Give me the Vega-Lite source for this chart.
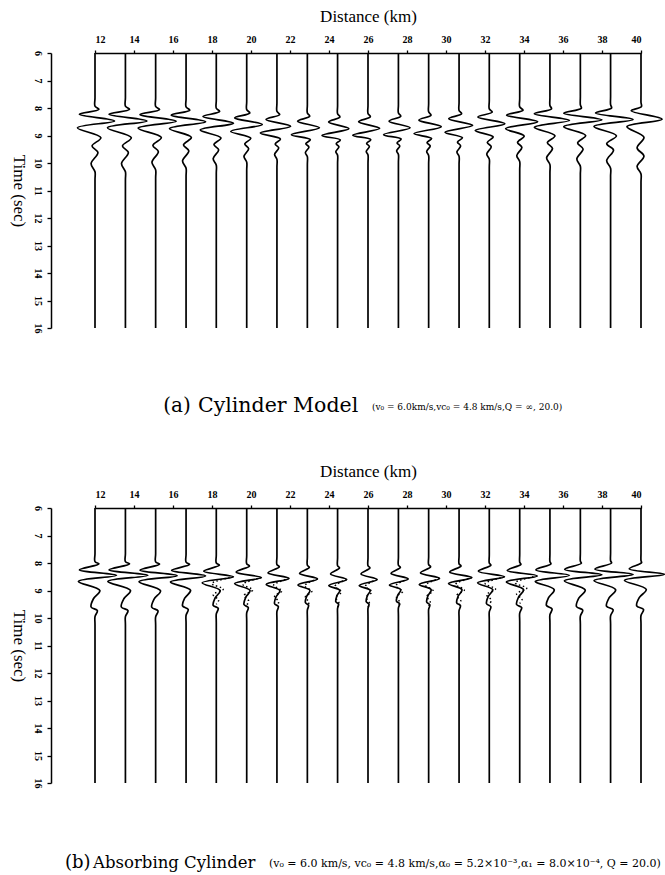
{
  "$schema": "https://vega.github.io/schema/vega-lite/v6.json",
  "background": "white",
  "padding": {"left": 10, "top": 7, "right": 0, "bottom": 0},
  "spacing": 45,
  "config": {
    "view": {"stroke": null},
    "axis": {
      "domainColor": "black", "tickColor": "black", "labelColor": "black", "titleColor": "black",
      "grid": false, "domainWidth": 1.5, "tickWidth": 1.3, "labelOverlap": false,
      "labelFont": "Liberation Serif", "labelFontSize": 10, "labelFontWeight": "bold",
      "titleFont": "Liberation Serif", "titleFontSize": 17, "titleFontWeight": "normal"
    },
    "text": {"font": "DejaVu Serif", "color": "black"}
  },
  "datasets": {
    "a": [
      {"d":12,"t":6,"x":12},{"d":12,"t":7.93,"x":12},{"d":12,"t":8.05,"x":12.2},{"d":12,"t":8.23,"x":11.2},{"d":12,"t":8.47,"x":13},{"d":12,"t":8.72,"x":11.1},{"d":12,"t":9.08,"x":12.3},{"d":12,"t":9.38,"x":11.85},{"d":12,"t":9.62,"x":12.15},{"d":12,"t":10.02,"x":11.8},{"d":12,"t":10.32,"x":12},{"d":12,"t":16,"x":12},
      {"d":13.56,"t":6,"x":13.56},{"d":13.56,"t":7.93,"x":13.56},{"d":13.56,"t":8.05,"x":13.77},{"d":13.56,"t":8.23,"x":12.72},{"d":13.56,"t":8.47,"x":14.66},{"d":13.56,"t":8.72,"x":12.64},{"d":13.56,"t":9.08,"x":13.86},{"d":13.56,"t":9.38,"x":13.41},{"d":13.56,"t":9.62,"x":13.71},{"d":13.56,"t":10.02,"x":13.36},{"d":13.56,"t":10.32,"x":13.56},{"d":13.56,"t":16,"x":13.56},
      {"d":15.11,"t":6,"x":15.11},{"d":15.11,"t":7.94,"x":15.11},{"d":15.11,"t":8.06,"x":15.31},{"d":15.11,"t":8.24,"x":14.31},{"d":15.11,"t":8.48,"x":16.16},{"d":15.11,"t":8.73,"x":14.21},{"d":15.11,"t":9.07,"x":15.4},{"d":15.11,"t":9.36,"x":14.97},{"d":15.11,"t":9.59,"x":15.25},{"d":15.11,"t":9.97,"x":14.92},{"d":15.11,"t":10.25,"x":15.11},{"d":15.11,"t":16,"x":15.11},
      {"d":16.67,"t":6,"x":16.67},{"d":16.67,"t":7.96,"x":16.67},{"d":16.67,"t":8.08,"x":16.86},{"d":16.67,"t":8.26,"x":15.91},{"d":16.67,"t":8.5,"x":17.67},{"d":16.67,"t":8.75,"x":15.82},{"d":16.67,"t":9.07,"x":16.94},{"d":16.67,"t":9.34,"x":16.54},{"d":16.67,"t":9.56,"x":16.81},{"d":16.67,"t":9.92,"x":16.49},{"d":16.67,"t":10.19,"x":16.67},{"d":16.67,"t":16,"x":16.67},
      {"d":18.22,"t":6,"x":18.22},{"d":18.22,"t":8.01,"x":18.22},{"d":18.22,"t":8.13,"x":18.39},{"d":18.22,"t":8.31,"x":17.54},{"d":18.22,"t":8.55,"x":19.1},{"d":18.22,"t":8.8,"x":17.4},{"d":18.22,"t":9.09,"x":18.46},{"d":18.22,"t":9.33,"x":18.1},{"d":18.22,"t":9.52,"x":18.34},{"d":18.22,"t":9.84,"x":18.06},{"d":18.22,"t":10.08,"x":18.22},{"d":18.22,"t":16,"x":18.22},
      {"d":19.78,"t":6,"x":19.78},{"d":19.78,"t":8.06,"x":19.78},{"d":19.78,"t":8.18,"x":19.94},{"d":19.78,"t":8.36,"x":19.16},{"d":19.78,"t":8.6,"x":20.58},{"d":19.78,"t":8.85,"x":18.96},{"d":19.78,"t":9.1,"x":19.99},{"d":19.78,"t":9.31,"x":19.68},{"d":19.78,"t":9.48,"x":19.88},{"d":19.78,"t":9.76,"x":19.64},{"d":19.78,"t":9.97,"x":19.78},{"d":19.78,"t":16,"x":19.78},
      {"d":21.33,"t":6,"x":21.33},{"d":21.33,"t":8.12,"x":21.33},{"d":21.33,"t":8.24,"x":21.47},{"d":21.33,"t":8.42,"x":20.77},{"d":21.33,"t":8.66,"x":22.03},{"d":21.33,"t":8.91,"x":20.48},{"d":21.33,"t":9.13,"x":21.51},{"d":21.33,"t":9.31,"x":21.24},{"d":21.33,"t":9.45,"x":21.42},{"d":21.33,"t":9.69,"x":21.21},{"d":21.33,"t":9.87,"x":21.33},{"d":21.33,"t":16,"x":21.33},
      {"d":22.89,"t":6,"x":22.89},{"d":22.89,"t":8.18,"x":22.89},{"d":22.89,"t":8.3,"x":23.01},{"d":22.89,"t":8.48,"x":22.39},{"d":22.89,"t":8.72,"x":23.51},{"d":22.89,"t":8.97,"x":22.07},{"d":22.89,"t":9.15,"x":23.04},{"d":22.89,"t":9.3,"x":22.81},{"d":22.89,"t":9.42,"x":22.97},{"d":22.89,"t":9.62,"x":22.79},{"d":22.89,"t":9.77,"x":22.89},{"d":22.89,"t":16,"x":22.89},
      {"d":24.44,"t":6,"x":24.44},{"d":24.44,"t":8.21,"x":24.44},{"d":24.44,"t":8.33,"x":24.56},{"d":24.44,"t":8.51,"x":23.98},{"d":24.44,"t":8.75,"x":25.02},{"d":24.44,"t":9,"x":23.64},{"d":24.44,"t":9.16,"x":24.58},{"d":24.44,"t":9.3,"x":24.37},{"d":24.44,"t":9.41,"x":24.51},{"d":24.44,"t":9.59,"x":24.35},{"d":24.44,"t":9.72,"x":24.44},{"d":24.44,"t":16,"x":24.44},
      {"d":26,"t":6,"x":26},{"d":26,"t":8.2,"x":26},{"d":26,"t":8.32,"x":26.12},{"d":26,"t":8.5,"x":25.52},{"d":26,"t":8.74,"x":26.6},{"d":26,"t":8.99,"x":25.22},{"d":26,"t":9.15,"x":26.14},{"d":26,"t":9.29,"x":25.93},{"d":26,"t":9.4,"x":26.07},{"d":26,"t":9.58,"x":25.91},{"d":26,"t":9.71,"x":26},{"d":26,"t":16,"x":26},
      {"d":27.56,"t":6,"x":27.56},{"d":27.56,"t":8.18,"x":27.56},{"d":27.56,"t":8.3,"x":27.68},{"d":27.56,"t":8.48,"x":27.08},{"d":27.56,"t":8.72,"x":28.16},{"d":27.56,"t":8.97,"x":26.8},{"d":27.56,"t":9.13,"x":27.7},{"d":27.56,"t":9.27,"x":27.49},{"d":27.56,"t":9.38,"x":27.63},{"d":27.56,"t":9.56,"x":27.47},{"d":27.56,"t":9.69,"x":27.56},{"d":27.56,"t":16,"x":27.56},
      {"d":29.11,"t":6,"x":29.11},{"d":29.11,"t":8.14,"x":29.11},{"d":29.11,"t":8.26,"x":29.23},{"d":29.11,"t":8.44,"x":28.61},{"d":29.11,"t":8.68,"x":29.76},{"d":29.11,"t":8.93,"x":28.36},{"d":29.11,"t":9.11,"x":29.26},{"d":29.11,"t":9.26,"x":29.03},{"d":29.11,"t":9.38,"x":29.19},{"d":29.11,"t":9.58,"x":29.01},{"d":29.11,"t":9.73,"x":29.11},{"d":29.11,"t":16,"x":29.11},
      {"d":30.67,"t":6,"x":30.67},{"d":30.67,"t":8.09,"x":30.67},{"d":30.67,"t":8.21,"x":30.8},{"d":30.67,"t":8.39,"x":30.14},{"d":30.67,"t":8.63,"x":31.37},{"d":30.67,"t":8.88,"x":29.95},{"d":30.67,"t":9.08,"x":30.84},{"d":30.67,"t":9.24,"x":30.59},{"d":30.67,"t":9.38,"x":30.75},{"d":30.67,"t":9.6,"x":30.56},{"d":30.67,"t":9.76,"x":30.67},{"d":30.67,"t":16,"x":30.67},
      {"d":32.22,"t":6,"x":32.22},{"d":32.22,"t":8.03,"x":32.22},{"d":32.22,"t":8.15,"x":32.37},{"d":32.22,"t":8.33,"x":31.63},{"d":32.22,"t":8.57,"x":33.02},{"d":32.22,"t":8.82,"x":31.5},{"d":32.22,"t":9.05,"x":32.42},{"d":32.22,"t":9.25,"x":32.12},{"d":32.22,"t":9.41,"x":32.32},{"d":32.22,"t":9.67,"x":32.09},{"d":32.22,"t":9.86,"x":32.22},{"d":32.22,"t":16,"x":32.22},
      {"d":33.78,"t":6,"x":33.78},{"d":33.78,"t":7.96,"x":33.78},{"d":33.78,"t":8.08,"x":33.95},{"d":33.78,"t":8.26,"x":33.11},{"d":33.78,"t":8.5,"x":34.7},{"d":33.78,"t":8.75,"x":33.06},{"d":33.78,"t":9.02,"x":34.01},{"d":33.78,"t":9.25,"x":33.67},{"d":33.78,"t":9.43,"x":33.89},{"d":33.78,"t":9.73,"x":33.63},{"d":33.78,"t":9.95,"x":33.78},{"d":33.78,"t":16,"x":33.78},
      {"d":35.33,"t":6,"x":35.33},{"d":35.33,"t":7.91,"x":35.33},{"d":35.33,"t":8.03,"x":35.41},{"d":35.33,"t":8.21,"x":34.53},{"d":35.33,"t":8.45,"x":36.33},{"d":35.33,"t":8.7,"x":34.53},{"d":35.33,"t":9.01,"x":35.59},{"d":35.33,"t":9.26,"x":35.2},{"d":35.33,"t":9.47,"x":35.46},{"d":35.33,"t":9.81,"x":35.16},{"d":35.33,"t":10.06,"x":35.33},{"d":35.33,"t":16,"x":35.33},
      {"d":36.89,"t":6,"x":36.89},{"d":36.89,"t":7.89,"x":36.89},{"d":36.89,"t":8.01,"x":36.94},{"d":36.89,"t":8.19,"x":36.04},{"d":36.89,"t":8.43,"x":37.99},{"d":36.89,"t":8.68,"x":36.04},{"d":36.89,"t":9,"x":37.16},{"d":36.89,"t":9.27,"x":36.75},{"d":36.89,"t":9.49,"x":37.03},{"d":36.89,"t":9.85,"x":36.71},{"d":36.89,"t":10.12,"x":36.89},{"d":36.89,"t":16,"x":36.89},
      {"d":38.44,"t":6,"x":38.44},{"d":38.44,"t":7.88,"x":38.44},{"d":38.44,"t":8,"x":38.49},{"d":38.44,"t":8.18,"x":37.67},{"d":38.44,"t":8.42,"x":39.59},{"d":38.44,"t":8.67,"x":37.59},{"d":38.44,"t":9.01,"x":38.74},{"d":38.44,"t":9.3,"x":38.24},{"d":38.44,"t":9.53,"x":38.59},{"d":38.44,"t":9.91,"x":38.24},{"d":38.44,"t":10.19,"x":38.44},{"d":38.44,"t":16,"x":38.44},
      {"d":40,"t":6,"x":40},{"d":40,"t":7.8,"x":40},{"d":40,"t":7.95,"x":40.02},{"d":40,"t":8.1,"x":39.5},{"d":40,"t":8.41,"x":41.08},{"d":40,"t":8.68,"x":39.28},{"d":40,"t":9.06,"x":40.15},{"d":40,"t":9.45,"x":39.8},{"d":40,"t":9.75,"x":40.15},{"d":40,"t":10.12,"x":39.8},{"d":40,"t":10.4,"x":40},{"d":40,"t":16,"x":40},
      {"d":12,"t":7.63,"x":12},{"d":12,"t":10.62,"x":12},{"d":13.56,"t":7.63,"x":13.56},{"d":13.56,"t":10.62,"x":13.56},{"d":15.11,"t":7.64,"x":15.11},{"d":15.11,"t":10.55,"x":15.11},{"d":16.67,"t":7.66,"x":16.67},{"d":16.67,"t":10.49,"x":16.67},{"d":18.22,"t":7.71,"x":18.22},{"d":18.22,"t":10.38,"x":18.22},
      {"d":19.78,"t":7.76,"x":19.78},{"d":19.78,"t":10.27,"x":19.78},{"d":21.33,"t":7.82,"x":21.33},{"d":21.33,"t":10.17,"x":21.33},{"d":22.89,"t":7.88,"x":22.89},{"d":22.89,"t":10.07,"x":22.89},{"d":24.44,"t":7.91,"x":24.44},{"d":24.44,"t":10.02,"x":24.44},{"d":26,"t":7.9,"x":26},{"d":26,"t":10.01,"x":26},
      {"d":27.56,"t":7.88,"x":27.56},{"d":27.56,"t":9.99,"x":27.56},{"d":29.11,"t":7.84,"x":29.11},{"d":29.11,"t":10.03,"x":29.11},{"d":30.67,"t":7.79,"x":30.67},{"d":30.67,"t":10.06,"x":30.67},{"d":32.22,"t":7.73,"x":32.22},{"d":32.22,"t":10.16,"x":32.22},{"d":33.78,"t":7.66,"x":33.78},{"d":33.78,"t":10.25,"x":33.78},
      {"d":35.33,"t":7.61,"x":35.33},{"d":35.33,"t":10.36,"x":35.33},{"d":36.89,"t":7.59,"x":36.89},{"d":36.89,"t":10.42,"x":36.89},{"d":38.44,"t":7.58,"x":38.44},{"d":38.44,"t":10.49,"x":38.44},{"d":40,"t":7.5,"x":40},{"d":40,"t":10.7,"x":40}
    ],
    "b": [
      {"d":12,"t":6,"x":12},{"d":12,"t":7.95,"x":12},{"d":12,"t":8.03,"x":12.2},{"d":12,"t":8.25,"x":11.2},{"d":12,"t":8.45,"x":13.1},{"d":12,"t":8.67,"x":11.15},{"d":12,"t":9,"x":12.25},{"d":12,"t":9.3,"x":11.92},{"d":12,"t":9.6,"x":11.8},{"d":12,"t":9.73,"x":12.12},{"d":12,"t":9.95,"x":12},{"d":12,"t":16,"x":12},
      {"d":13.56,"t":6,"x":13.56},{"d":13.56,"t":7.95,"x":13.56},{"d":13.56,"t":8.03,"x":13.77},{"d":13.56,"t":8.25,"x":12.72},{"d":13.56,"t":8.45,"x":14.71},{"d":13.56,"t":8.67,"x":12.66},{"d":13.56,"t":9,"x":13.82},{"d":13.56,"t":9.3,"x":13.48},{"d":13.56,"t":9.6,"x":13.35},{"d":13.56,"t":9.73,"x":13.69},{"d":13.56,"t":9.95,"x":13.56},{"d":13.56,"t":16,"x":13.56},
      {"d":15.11,"t":6,"x":15.11},{"d":15.11,"t":7.96,"x":15.11},{"d":15.11,"t":8.04,"x":15.31},{"d":15.11,"t":8.26,"x":14.31},{"d":15.11,"t":8.46,"x":16.21},{"d":15.11,"t":8.68,"x":14.26},{"d":15.11,"t":9.01,"x":15.36},{"d":15.11,"t":9.31,"x":15.03},{"d":15.11,"t":9.61,"x":14.91},{"d":15.11,"t":9.74,"x":15.23},{"d":15.11,"t":9.96,"x":15.11},{"d":15.11,"t":16,"x":15.11},
      {"d":16.67,"t":6,"x":16.67},{"d":16.67,"t":7.97,"x":16.67},{"d":16.67,"t":8.05,"x":16.85},{"d":16.67,"t":8.27,"x":15.93},{"d":16.67,"t":8.47,"x":17.67},{"d":16.67,"t":8.69,"x":15.87},{"d":16.67,"t":8.99,"x":16.9},{"d":16.67,"t":9.28,"x":16.6},{"d":16.67,"t":9.56,"x":16.49},{"d":16.67,"t":9.69,"x":16.78},{"d":16.67,"t":9.9,"x":16.67},{"d":16.67,"t":16,"x":16.67},
      {"d":18.22,"t":6,"x":18.22},{"d":18.22,"t":8,"x":18.22},{"d":18.22,"t":8.08,"x":18.38},{"d":18.22,"t":8.3,"x":17.58},{"d":18.22,"t":8.5,"x":19.1},{"d":18.22,"t":8.72,"x":17.5},{"d":18.22,"t":9,"x":18.42},{"d":18.22,"t":9.27,"x":18.16},{"d":18.22,"t":9.54,"x":18.06},{"d":18.22,"t":9.65,"x":18.32},{"d":18.22,"t":9.85,"x":18.22},{"d":18.22,"t":16,"x":18.22},
      {"d":19.78,"t":6,"x":19.78},{"d":19.78,"t":8.03,"x":19.78},{"d":19.78,"t":8.11,"x":19.92},{"d":19.78,"t":8.33,"x":19.24},{"d":19.78,"t":8.53,"x":20.53},{"d":19.78,"t":8.75,"x":19.16},{"d":19.78,"t":9,"x":19.95},{"d":19.78,"t":9.25,"x":19.73},{"d":19.78,"t":9.51,"x":19.64},{"d":19.78,"t":9.62,"x":19.86},{"d":19.78,"t":9.81,"x":19.78},{"d":19.78,"t":16,"x":19.78},
      {"d":21.33,"t":6,"x":21.33},{"d":21.33,"t":8.06,"x":21.33},{"d":21.33,"t":8.14,"x":21.45},{"d":21.33,"t":8.36,"x":20.87},{"d":21.33,"t":8.56,"x":21.95},{"d":21.33,"t":8.78,"x":20.78},{"d":21.33,"t":9,"x":21.48},{"d":21.33,"t":9.24,"x":21.28},{"d":21.33,"t":9.48,"x":21.21},{"d":21.33,"t":9.58,"x":21.4},{"d":21.33,"t":9.76,"x":21.33},{"d":21.33,"t":16,"x":21.33},
      {"d":22.89,"t":6,"x":22.89},{"d":22.89,"t":8.08,"x":22.89},{"d":22.89,"t":8.16,"x":22.99},{"d":22.89,"t":8.38,"x":22.49},{"d":22.89,"t":8.58,"x":23.41},{"d":22.89,"t":8.8,"x":22.41},{"d":22.89,"t":8.99,"x":23.02},{"d":22.89,"t":9.22,"x":22.85},{"d":22.89,"t":9.44,"x":22.79},{"d":22.89,"t":9.54,"x":22.95},{"d":22.89,"t":9.71,"x":22.89},{"d":22.89,"t":16,"x":22.89},
      {"d":24.44,"t":6,"x":24.44},{"d":24.44,"t":8.1,"x":24.44},{"d":24.44,"t":8.18,"x":24.54},{"d":24.44,"t":8.4,"x":24.08},{"d":24.44,"t":8.6,"x":24.91},{"d":24.44,"t":8.82,"x":23.99},{"d":24.44,"t":8.99,"x":24.55},{"d":24.44,"t":9.2,"x":24.4},{"d":24.44,"t":9.41,"x":24.35},{"d":24.44,"t":9.5,"x":24.49},{"d":24.44,"t":9.65,"x":24.44},{"d":24.44,"t":16,"x":24.44},
      {"d":26,"t":6,"x":26},{"d":26,"t":8.1,"x":26},{"d":26,"t":8.18,"x":26.1},{"d":26,"t":8.4,"x":25.64},{"d":26,"t":8.6,"x":26.47},{"d":26,"t":8.82,"x":25.55},{"d":26,"t":8.99,"x":26.11},{"d":26,"t":9.2,"x":25.96},{"d":26,"t":9.41,"x":25.91},{"d":26,"t":9.5,"x":26.05},{"d":26,"t":9.65,"x":26},{"d":26,"t":16,"x":26},
      {"d":27.56,"t":6,"x":27.56},{"d":27.56,"t":8.08,"x":27.56},{"d":27.56,"t":8.16,"x":27.66},{"d":27.56,"t":8.38,"x":27.18},{"d":27.56,"t":8.58,"x":28.06},{"d":27.56,"t":8.8,"x":27.1},{"d":27.56,"t":8.97,"x":27.68},{"d":27.56,"t":9.18,"x":27.52},{"d":27.56,"t":9.39,"x":27.46},{"d":27.56,"t":9.48,"x":27.62},{"d":27.56,"t":9.63,"x":27.56},{"d":27.56,"t":16,"x":27.56},
      {"d":29.11,"t":6,"x":29.11},{"d":29.11,"t":8.06,"x":29.11},{"d":29.11,"t":8.14,"x":29.21},{"d":29.11,"t":8.36,"x":28.69},{"d":29.11,"t":8.56,"x":29.67},{"d":29.11,"t":8.78,"x":28.63},{"d":29.11,"t":8.97,"x":29.24},{"d":29.11,"t":9.2,"x":29.07},{"d":29.11,"t":9.42,"x":29.01},{"d":29.11,"t":9.52,"x":29.17},{"d":29.11,"t":9.69,"x":29.11},{"d":29.11,"t":16,"x":29.11},
      {"d":30.67,"t":6,"x":30.67},{"d":30.67,"t":8.03,"x":30.67},{"d":30.67,"t":8.11,"x":30.77},{"d":30.67,"t":8.33,"x":30.19},{"d":30.67,"t":8.53,"x":31.33},{"d":30.67,"t":8.75,"x":30.13},{"d":30.67,"t":8.97,"x":30.82},{"d":30.67,"t":9.21,"x":30.62},{"d":30.67,"t":9.45,"x":30.55},{"d":30.67,"t":9.55,"x":30.74},{"d":30.67,"t":9.73,"x":30.67},{"d":30.67,"t":16,"x":30.67},
      {"d":32.22,"t":6,"x":32.22},{"d":32.22,"t":8,"x":32.22},{"d":32.22,"t":8.08,"x":32.3},{"d":32.22,"t":8.3,"x":31.66},{"d":32.22,"t":8.5,"x":33},{"d":32.22,"t":8.72,"x":31.62},{"d":32.22,"t":8.97,"x":32.4},{"d":32.22,"t":9.22,"x":32.16},{"d":32.22,"t":9.48,"x":32.08},{"d":32.22,"t":9.59,"x":32.3},{"d":32.22,"t":9.78,"x":32.22},{"d":32.22,"t":16,"x":32.22},
      {"d":33.78,"t":6,"x":33.78},{"d":33.78,"t":7.97,"x":33.78},{"d":33.78,"t":8.05,"x":33.84},{"d":33.78,"t":8.27,"x":33.14},{"d":33.78,"t":8.47,"x":34.68},{"d":33.78,"t":8.69,"x":33.1},{"d":33.78,"t":8.97,"x":33.98},{"d":33.78,"t":9.24,"x":33.72},{"d":33.78,"t":9.51,"x":33.62},{"d":33.78,"t":9.62,"x":33.88},{"d":33.78,"t":9.82,"x":33.78},{"d":33.78,"t":16,"x":33.78},
      {"d":35.33,"t":6,"x":35.33},{"d":35.33,"t":7.95,"x":35.33},{"d":35.33,"t":8.03,"x":35.38},{"d":35.33,"t":8.25,"x":34.61},{"d":35.33,"t":8.45,"x":36.33},{"d":35.33,"t":8.67,"x":34.58},{"d":35.33,"t":8.97,"x":35.55},{"d":35.33,"t":9.26,"x":35.26},{"d":35.33,"t":9.54,"x":35.15},{"d":35.33,"t":9.67,"x":35.44},{"d":35.33,"t":9.88,"x":35.33},{"d":35.33,"t":16,"x":35.33},
      {"d":36.89,"t":6,"x":36.89},{"d":36.89,"t":7.93,"x":36.89},{"d":36.89,"t":8.01,"x":36.94},{"d":36.89,"t":8.23,"x":36.09},{"d":36.89,"t":8.43,"x":37.99},{"d":36.89,"t":8.65,"x":36.07},{"d":36.89,"t":8.98,"x":37.14},{"d":36.89,"t":9.28,"x":36.81},{"d":36.89,"t":9.58,"x":36.69},{"d":36.89,"t":9.71,"x":37.01},{"d":36.89,"t":9.93,"x":36.89},{"d":36.89,"t":16,"x":36.89},
      {"d":38.44,"t":6,"x":38.44},{"d":38.44,"t":7.92,"x":38.44},{"d":38.44,"t":8,"x":38.49},{"d":38.44,"t":8.22,"x":37.64},{"d":38.44,"t":8.42,"x":39.59},{"d":38.44,"t":8.64,"x":37.59},{"d":38.44,"t":8.97,"x":38.7},{"d":38.44,"t":9.27,"x":38.36},{"d":38.44,"t":9.57,"x":38.23},{"d":38.44,"t":9.7,"x":38.57},{"d":38.44,"t":9.92,"x":38.44},{"d":38.44,"t":16,"x":38.44},
      {"d":40,"t":6,"x":40},{"d":40,"t":7.91,"x":40},{"d":40,"t":7.99,"x":40.03},{"d":40,"t":8.21,"x":39.4},{"d":40,"t":8.41,"x":41.2},{"d":40,"t":8.63,"x":39.15},{"d":40,"t":8.96,"x":40.27},{"d":40,"t":9.26,"x":39.91},{"d":40,"t":9.56,"x":39.78},{"d":40,"t":9.69,"x":40.13},{"d":40,"t":9.91,"x":40},{"d":40,"t":16,"x":40},
      {"d":12,"t":7.65,"x":12},{"d":12,"t":10.25,"x":12},{"d":13.56,"t":7.65,"x":13.56},{"d":13.56,"t":10.25,"x":13.56},{"d":15.11,"t":7.66,"x":15.11},{"d":15.11,"t":10.26,"x":15.11},{"d":16.67,"t":7.67,"x":16.67},{"d":16.67,"t":10.2,"x":16.67},{"d":18.22,"t":7.7,"x":18.22},{"d":18.22,"t":10.15,"x":18.22},
      {"d":19.78,"t":7.73,"x":19.78},{"d":19.78,"t":10.11,"x":19.78},{"d":21.33,"t":7.76,"x":21.33},{"d":21.33,"t":10.06,"x":21.33},{"d":22.89,"t":7.78,"x":22.89},{"d":22.89,"t":10.01,"x":22.89},{"d":24.44,"t":7.8,"x":24.44},{"d":24.44,"t":9.95,"x":24.44},{"d":26,"t":7.8,"x":26},{"d":26,"t":9.95,"x":26},
      {"d":27.56,"t":7.78,"x":27.56},{"d":27.56,"t":9.93,"x":27.56},{"d":29.11,"t":7.76,"x":29.11},{"d":29.11,"t":9.99,"x":29.11},{"d":30.67,"t":7.73,"x":30.67},{"d":30.67,"t":10.03,"x":30.67},{"d":32.22,"t":7.7,"x":32.22},{"d":32.22,"t":10.08,"x":32.22},{"d":33.78,"t":7.67,"x":33.78},{"d":33.78,"t":10.12,"x":33.78},
      {"d":35.33,"t":7.65,"x":35.33},{"d":35.33,"t":10.18,"x":35.33},{"d":36.89,"t":7.63,"x":36.89},{"d":36.89,"t":10.23,"x":36.89},{"d":38.44,"t":7.62,"x":38.44},{"d":38.44,"t":10.22,"x":38.44},{"d":40,"t":7.61,"x":40},{"d":40,"t":10.21,"x":40}
    ],
    "bdot": [
      {"d":18.22,"t":8.5,"x":19.1},{"d":18.22,"t":8.75,"x":17.98},{"d":18.22,"t":8.95,"x":18.58},{"d":18.22,"t":9.15,"x":18.06},{"d":18.22,"t":9.35,"x":18.34},{"d":18.22,"t":9.5,"x":18.22},
      {"d":19.78,"t":8.53,"x":20.53},{"d":19.78,"t":8.78,"x":19.58},{"d":19.78,"t":8.98,"x":20.09},{"d":19.78,"t":9.18,"x":19.64},{"d":19.78,"t":9.38,"x":19.88},{"d":19.78,"t":9.53,"x":19.78},
      {"d":21.33,"t":8.56,"x":21.95},{"d":21.33,"t":8.81,"x":21.16},{"d":21.33,"t":9.01,"x":21.59},{"d":21.33,"t":9.21,"x":21.21},{"d":21.33,"t":9.41,"x":21.42},{"d":21.33,"t":9.56,"x":21.33},
      {"d":22.89,"t":8.58,"x":23.41},{"d":22.89,"t":8.83,"x":22.74},{"d":22.89,"t":9.03,"x":23.12},{"d":22.89,"t":9.23,"x":22.79},{"d":22.89,"t":9.43,"x":22.97},{"d":22.89,"t":9.58,"x":22.89},
      {"d":24.44,"t":8.6,"x":24.91},{"d":24.44,"t":8.85,"x":24.3},{"d":24.44,"t":9.05,"x":24.64},{"d":24.44,"t":9.25,"x":24.35},{"d":24.44,"t":9.45,"x":24.51},{"d":24.44,"t":9.6,"x":24.44},
      {"d":26,"t":8.6,"x":26.47},{"d":26,"t":8.85,"x":25.86},{"d":26,"t":9.05,"x":26.2},{"d":26,"t":9.25,"x":25.91},{"d":26,"t":9.45,"x":26.07},{"d":26,"t":9.6,"x":26},
      {"d":27.56,"t":8.58,"x":28.06},{"d":27.56,"t":8.83,"x":27.42},{"d":27.56,"t":9.03,"x":27.78},{"d":27.56,"t":9.23,"x":27.46},{"d":27.56,"t":9.43,"x":27.63},{"d":27.56,"t":9.58,"x":27.56},
      {"d":29.11,"t":8.56,"x":29.67},{"d":29.11,"t":8.81,"x":28.95},{"d":29.11,"t":9.01,"x":29.34},{"d":29.11,"t":9.21,"x":29.01},{"d":29.11,"t":9.41,"x":29.19},{"d":29.11,"t":9.56,"x":29.11},
      {"d":30.67,"t":8.53,"x":31.33},{"d":30.67,"t":8.78,"x":30.49},{"d":30.67,"t":8.98,"x":30.94},{"d":30.67,"t":9.18,"x":30.55},{"d":30.67,"t":9.38,"x":30.76},{"d":30.67,"t":9.53,"x":30.67},
      {"d":32.22,"t":8.5,"x":33},{"d":32.22,"t":8.75,"x":32.01},{"d":32.22,"t":8.95,"x":32.54},{"d":32.22,"t":9.15,"x":32.08},{"d":32.22,"t":9.35,"x":32.32},{"d":32.22,"t":9.5,"x":32.22},
      {"d":33.78,"t":8.47,"x":34.68},{"d":33.78,"t":8.72,"x":33.54},{"d":33.78,"t":8.92,"x":34.14},{"d":33.78,"t":9.12,"x":33.62},{"d":33.78,"t":9.32,"x":33.9},{"d":33.78,"t":9.47,"x":33.78}
    ]
  },
  "vconcat": [
    {
      "width": 546,
      "height": 275,
      "resolve": {"axis": {"x": "independent", "y": "independent"}},
      "layer": [
        {
          "data": {"name": "a"},
          "mark": {"type": "line", "interpolate": "catmull-rom", "color": "black", "strokeWidth": 1.7},
          "encoding": {
            "x": {
              "field": "x", "type": "quantitative",
              "scale": {"domain": [12, 40], "nice": false, "zero": false},
              "axis": {"orient": "top", "title": "Distance (km)", "values": [12,14,16,18,20,22,24,26,28,30,32,34,36,38,40], "tickSize": 3, "labelPadding": 6, "titlePadding": 9}
            },
            "y": {
              "field": "t", "type": "quantitative",
              "scale": {"domain": [6, 16], "reverse": true, "nice": false, "zero": false},
              "axis": {"orient": "left", "offset": 44, "title": "Time (sec)", "values": [6,7,8,9,10,11,12,13,14,15,16], "tickSize": 4, "labelAngle": 90, "labelAlign": "center", "labelBaseline": "top", "labelPadding": 5, "titleAngle": 90, "titleBaseline": "top", "titlePadding": 6}
            },
            "detail": {"field": "d", "type": "nominal"},
            "order": {"field": "t", "type": "quantitative"}
          }
        },
        {
          "data": {"values": [{}]},
          "mark": {"type": "text", "align": "left", "baseline": "middle", "fontSize": 20},
          "encoding": {"x": {"datum": 15.5, "axis": null}, "y": {"datum": 18.84, "axis": null}, "text": {"value": "(a)"}}
        },
        {
          "data": {"values": [{}]},
          "mark": {"type": "text", "align": "left", "baseline": "middle", "fontSize": 20.5},
          "encoding": {"x": {"datum": 17.28, "axis": null}, "y": {"datum": 18.84, "axis": null}, "text": {"value": "Cylinder Model"}}
        },
        {
          "data": {"values": [{}]},
          "mark": {"type": "text", "align": "left", "baseline": "middle", "fontSize": 9},
          "encoding": {"x": {"datum": 26.2, "axis": null}, "y": {"datum": 18.88, "axis": null}, "text": {"value": "(v₀ = 6.0km/s,vc₀ = 4.8 km/s,Q = ∞, 20.0)"}}
        }
      ]
    },
    {
      "width": 546,
      "height": 275,
      "resolve": {"axis": {"x": "independent", "y": "independent"}},
      "layer": [
        {
          "data": {"name": "b"},
          "mark": {"type": "line", "interpolate": "catmull-rom", "color": "black", "strokeWidth": 1.7},
          "encoding": {
            "x": {
              "field": "x", "type": "quantitative",
              "scale": {"domain": [12, 40], "nice": false, "zero": false},
              "axis": {"orient": "top", "title": "Distance (km)", "values": [12,14,16,18,20,22,24,26,28,30,32,34,36,38,40], "tickSize": 3, "labelPadding": 6, "titlePadding": 9}
            },
            "y": {
              "field": "t", "type": "quantitative",
              "scale": {"domain": [6, 16], "reverse": true, "nice": false, "zero": false},
              "axis": {"orient": "left", "offset": 44, "title": "Time (sec)", "values": [6,7,8,9,10,11,12,13,14,15,16], "tickSize": 4, "labelAngle": 90, "labelAlign": "center", "labelBaseline": "top", "labelPadding": 5, "titleAngle": 90, "titleBaseline": "top", "titlePadding": 6}
            },
            "detail": {"field": "d", "type": "nominal"},
            "order": {"field": "t", "type": "quantitative"}
          }
        },
        {
          "data": {"name": "bdot"},
          "mark": {"type": "line", "interpolate": "catmull-rom", "color": "black", "strokeWidth": 1.5, "strokeDash": [1.5, 2.5]},
          "encoding": {
            "x": {"field": "x", "type": "quantitative", "axis": null},
            "y": {"field": "t", "type": "quantitative", "axis": null},
            "detail": {"field": "d", "type": "nominal"},
            "order": {"field": "t", "type": "quantitative"}
          }
        },
        {
          "data": {"values": [{}]},
          "mark": {"type": "text", "align": "left", "baseline": "middle", "fontSize": 18},
          "encoding": {"x": {"datum": 10.46, "axis": null}, "y": {"datum": 18.91, "axis": null}, "text": {"value": "(b)"}}
        },
        {
          "data": {"values": [{}]},
          "mark": {"type": "text", "align": "left", "baseline": "middle", "fontSize": 16.5},
          "encoding": {"x": {"datum": 11.9, "axis": null}, "y": {"datum": 18.91, "axis": null}, "text": {"value": "Absorbing Cylinder"}}
        },
        {
          "data": {"values": [{}]},
          "mark": {"type": "text", "align": "left", "baseline": "middle", "fontSize": 11},
          "encoding": {"x": {"datum": 20.92, "axis": null}, "y": {"datum": 18.95, "axis": null}, "text": {"value": "(v₀ = 6.0 km/s, vc₀ = 4.8 km/s,α₀ = 5.2×10⁻³,α₁ = 8.0×10⁻⁴, Q = 20.0)"}}
        }
      ]
    }
  ]
}
